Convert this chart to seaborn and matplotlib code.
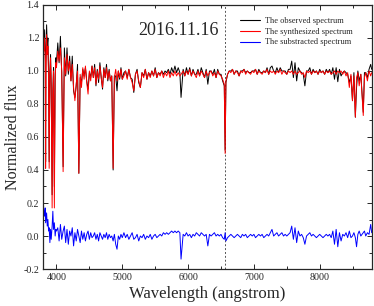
import numpy as np
import pandas as pd
import seaborn as sns
import matplotlib
matplotlib.use('Agg')
import matplotlib.pyplot as plt
from matplotlib.lines import Line2D
from matplotlib.ticker import MultipleLocator

# wavelength grid (angstrom)
wavelength = [
    3800, 3810, 3820, 3830, 3835, 3840, 3850, 3860, 3870, 3880, 3889, 3900, 3910, 3920, 3934, 3945, 3955, 3968, 3980, 3990, 4000,
    4020, 4040, 4060, 4080, 4101, 4120, 4140, 4160, 4180, 4200, 4220, 4240, 4260, 4280, 4300, 4320, 4340, 4360, 4380, 4400,
    4420, 4440, 4460, 4480, 4500, 4520, 4540, 4560, 4580, 4600, 4620, 4640, 4660, 4680, 4700, 4720, 4740, 4760, 4780, 4800,
    4820, 4840, 4861, 4880, 4900, 4920, 4940, 4960, 4980, 5000,
    5025, 5050, 5075, 5100, 5125, 5150, 5175, 5200, 5225, 5250, 5275, 5300, 5325, 5350, 5375, 5400, 5425, 5450, 5475, 5500,
    5525, 5550, 5575, 5600, 5625, 5650, 5675, 5700, 5725, 5750, 5775, 5800, 5825, 5850, 5875, 5893,
    5925, 5950, 5975, 6000, 6025, 6050, 6075, 6100, 6125, 6150, 6175, 6200, 6225, 6250, 6275, 6300, 6325, 6350, 6375, 6400,
    6425, 6450, 6475, 6500, 6525, 6550, 6563, 6575,
    6600, 6625, 6650, 6675, 6700, 6725, 6750, 6775, 6800, 6825, 6850, 6875, 6900, 6925, 6950, 6975, 7000, 7025, 7050, 7075,
    7100, 7125, 7150, 7175, 7200, 7225, 7250, 7275, 7300, 7325, 7350, 7375, 7400, 7425, 7450, 7475, 7500, 7525, 7550, 7575,
    7600, 7625, 7650, 7675, 7700, 7725, 7750, 7775, 7800, 7825, 7850, 7875, 7900, 7925, 7950, 7975, 8000, 8025, 8050, 8075,
    8100, 8125, 8150, 8175, 8200, 8225, 8250, 8275, 8300, 8325, 8350, 8375, 8400, 8425, 8450, 8475,
    8498, 8520, 8542, 8560, 8580, 8600, 8625, 8662, 8680, 8700, 8725, 8750, 8775, 8790,
]

observed = [
    1.20, 1.15, 1.25, 1.10, 0.45, 1.05, 1.28, 1.15, 1.20, 1.00, 0.45, 1.00, 1.10, 0.92, 0.25, 0.88, 1.02, 0.30, 0.98, 1.08, 1.05,
    1.17, 1.05, 1.21, 0.99, 0.42, 1.14, 0.97, 1.14, 0.98, 1.09, 0.94, 1.09, 0.88, 0.84, 0.91, 1.04, 0.38, 0.96, 0.93, 1.01,
    0.97, 1.02, 0.94, 0.89, 0.99, 0.96, 1.03, 0.96, 1.04, 0.91, 1.01, 0.93, 1.05, 0.96, 0.89, 1.02, 0.96, 1.04, 0.94, 1.01,
    0.94, 0.97, 0.40, 0.97, 0.97, 0.88, 1.00, 0.95, 1.02, 0.95,
    0.99, 1.00, 0.96, 1.01, 0.96, 0.95, 0.87, 0.98, 1.01, 0.93, 0.90, 0.99, 0.97, 1.01, 0.95, 0.99, 0.97, 1.00, 0.97, 1.02,
    0.96, 0.99, 0.98, 1.00, 0.98, 1.00, 0.99, 1.01, 0.98, 1.02, 0.99, 1.03, 0.99, 1.02, 0.99, 0.84,
    1.01, 0.97, 1.02, 0.98, 1.02, 0.97, 1.01, 0.98, 0.98, 1.01, 0.97, 1.02, 0.99, 0.96, 1.01, 0.92, 1.00, 1.00, 0.98, 1.01,
    0.96, 1.01, 0.98, 0.98, 0.94, 0.91, 0.52, 0.93,
    0.98, 1.00, 1.00, 1.01, 0.98, 1.00, 1.00, 0.97, 1.00, 1.00, 1.01, 0.99, 1.00, 0.99, 0.99, 1.00, 1.00, 1.01, 0.98, 1.01,
    0.99, 0.99, 1.00, 0.99, 1.02, 0.98, 1.02, 1.03, 1.00, 0.99, 1.02, 0.99, 1.02, 1.00, 1.00, 1.00, 0.98, 1.01, 1.01, 1.06,
    0.96, 1.05, 0.94, 1.02, 1.00, 0.99, 0.98, 0.91, 1.00, 1.00, 1.02, 0.98, 1.01, 0.99, 1.00, 0.98, 1.01, 0.99, 1.00, 0.98,
    1.01, 0.99, 1.01, 0.98, 1.02, 0.95, 1.02, 0.935, 1.01, 0.97, 0.99, 1.00, 0.99, 0.98, 0.93, 0.97,
    0.82, 0.99, 0.72, 0.90, 1.00, 0.94, 0.98, 0.75, 0.99, 0.99, 0.96, 1.01, 1.04, 1.01,
]

synthesized = [
    1.18, 1.12, 1.20, 1.05, 0.41, 1.00, 1.22, 1.10, 1.15, 0.95, 0.41, 0.98, 1.08, 0.90, 0.17, 0.85, 1.00, 0.17, 0.95, 1.05, 1.02,
    1.12, 1.06, 1.14, 1.00, 0.39, 1.08, 0.98, 1.10, 1.00, 1.06, 0.94, 1.04, 0.90, 0.82, 0.92, 1.00, 0.38, 0.98, 0.90, 1.02,
    0.95, 1.03, 0.93, 0.86, 1.00, 0.94, 1.03, 0.96, 1.02, 0.92, 1.00, 0.95, 1.03, 0.96, 0.90, 1.01, 0.96, 1.02, 0.95, 1.00,
    0.94, 0.97, 0.41, 0.96, 1.01, 0.94, 1.00, 0.96, 1.01, 0.95,
    0.97, 1.00, 0.95, 1.01, 0.96, 0.93, 0.88, 0.98, 1.00, 0.94, 0.90, 0.99, 0.96, 1.01, 0.95, 0.99, 0.96, 1.00, 0.97, 1.01,
    0.96, 0.99, 0.97, 1.00, 0.96, 0.99, 0.97, 1.00, 0.96, 0.99, 0.97, 1.00, 0.97, 0.99, 0.97, 0.98,
    1.00, 0.97, 1.00, 0.98, 1.01, 0.97, 1.00, 0.98, 0.96, 1.00, 0.97, 1.00, 0.98, 0.96, 1.00, 0.97, 0.99, 1.00, 0.97, 0.99,
    0.96, 1.00, 0.98, 0.97, 0.95, 0.92, 0.50, 0.94,
    0.98, 1.00, 0.99, 1.01, 0.98, 1.00, 0.99, 0.97, 1.00, 0.99, 1.01, 0.98, 1.00, 0.99, 0.98, 1.00, 0.99, 1.01, 0.98, 1.00,
    0.99, 0.98, 1.00, 0.99, 1.01, 0.98, 1.00, 0.99, 1.00, 0.98, 1.00, 0.99, 1.01, 0.98, 1.00, 0.99, 0.98, 1.00, 0.99, 1.00,
    0.98, 1.00, 0.98, 0.99, 1.00, 0.98, 0.99, 0.96, 1.00, 0.99, 1.00, 0.98, 1.00, 0.99, 1.00, 0.98, 1.00, 0.99, 1.00, 0.98,
    1.00, 0.99, 1.00, 0.98, 0.99, 1.00, 0.98, 1.00, 0.99, 1.00, 0.98, 1.00, 0.97, 0.99, 0.90, 0.98,
    0.82, 0.97, 0.72, 0.96, 0.99, 0.91, 0.98, 0.73, 0.96, 0.99, 0.94, 1.00, 0.97, 0.99,
]

subtracted = [
    0.20, 0.15, 0.12, 0.17, 0.08, 0.10, 0.14, 0.06, 0.10, 0.03, 0.05, -0.04, 0.04, -0.02, 0.06, 0.15, 0.04, 0.08, 0.00, 0.04, 0.03,
    0.05, -0.03, 0.07, -0.02, 0.03, 0.06, -0.04, 0.04, -0.05, 0.03, 0.00, 0.05, -0.06, 0.02, -0.03, 0.04, 0.00, -0.04, 0.03, -0.02,
    0.02, -0.03, 0.01, 0.03, -0.02, 0.02, -0.01, 0.00, 0.02, -0.02, 0.01, -0.03, 0.02, 0.00, -0.02, 0.01, -0.01, 0.02, -0.02, 0.01,
    -0.01, 0.00, -0.03, 0.01, -0.05, -0.08, 0.00, -0.02, 0.01, -0.01,
    0.02, -0.01, 0.01, -0.02, 0.00, 0.02, -0.02, -0.01, 0.01, -0.03, 0.00, -0.01, 0.01, -0.02, 0.00, -0.01, 0.01, -0.02, 0.00, 0.01,
    -0.01, 0.00, 0.01, 0.00, 0.02, 0.01, 0.02, 0.01, 0.02, 0.03, 0.02, 0.03, 0.02, 0.03, 0.02, -0.14,
    0.01, 0.00, 0.02, 0.00, 0.01, -0.01, 0.01, 0.00, 0.02, 0.01, 0.00, 0.02, 0.01, 0.00, 0.01, -0.06, 0.01, 0.00, 0.01, 0.02,
    0.00, 0.01, 0.00, 0.01, -0.01, -0.02, 0.02, -0.03,
    -0.01, 0.00, 0.01, 0.00, -0.01, 0.00, 0.01, 0.00, -0.01, 0.01, 0.00, 0.01, -0.01, 0.00, 0.01, 0.00, 0.01, -0.01, 0.00, 0.01,
    0.00, 0.01, -0.01, 0.00, 0.01, 0.00, 0.02, 0.04, 0.00, 0.01, 0.02, 0.00, 0.01, 0.02, 0.00, 0.01, 0.00, 0.01, 0.02, 0.06,
    -0.02, 0.05, -0.04, 0.03, 0.00, 0.01, -0.01, -0.05, 0.00, 0.01, 0.02, 0.00, 0.01, 0.00, -0.01, 0.00, 0.01, 0.00, -0.01, 0.00,
    0.01, 0.00, 0.01, -0.01, 0.03, -0.05, 0.04, -0.065, 0.02, -0.03, 0.01, 0.00, 0.02, -0.01, 0.03, -0.01,
    0.00, 0.02, -0.01, -0.065, 0.01, 0.03, 0.00, 0.02, 0.03, 0.00, 0.02, 0.01, 0.07, 0.02,
]

labels = ['The observed spectrum', 'The synthesized spectrum', 'The substracted spectrum']
colors = ['#000000', '#ff0000', '#0000ff']
h_alpha = 6563
date_text = '2016.11.16'

assert len(wavelength) == len(observed) == len(synthesized) == len(subtracted)

sns.set_theme(style='ticks')
plt.rcParams['font.family'] = ['Liberation Serif', 'DejaVu Serif']

fig = plt.figure(figsize=(3.74, 3.06), dpi=100)
ax = fig.add_axes([0.1158, 0.1209, 0.878, 0.8628])

# draw in order: observed, then synthesized on top, then residual
for flux, color in zip([observed, synthesized, subtracted], colors):
    sns.lineplot(x=wavelength, y=flux, color=color, estimator=None, sort=False,
                 linewidth=0.7, ax=ax)

ax.axvline(h_alpha, color='#555555', linestyle=(0, (2, 2)), linewidth=0.7, zorder=0)

ax.set_xlim(3800, 8790)
ax.set_ylim(-0.2, 1.4)
ax.xaxis.set_major_locator(MultipleLocator(1000))
ax.xaxis.set_minor_locator(MultipleLocator(500))
ax.yaxis.set_major_locator(MultipleLocator(0.2))
ax.yaxis.set_minor_locator(MultipleLocator(0.1))
ax.yaxis.set_major_formatter(plt.FuncFormatter(lambda v, p: f'{v:.1f}'))
ax.tick_params(which='both', direction='in', top=True, right=True, width=0.7, labelsize=7.2, pad=3)
ax.tick_params(which='major', length=3.5)
ax.tick_params(which='minor', length=2)
for s in ax.spines.values():
    s.set_linewidth(0.9)

ax.set_xlabel('Wavelength (angstrom)', fontsize=12, labelpad=3)
ax.set_ylabel('Normalized flux', fontsize=11.5, labelpad=2)

ax.text(0.413, 0.9015, date_text, transform=ax.transAxes, ha='center', va='center', fontsize=13)

handles = [Line2D([], [], color=c, linewidth=0.8) for c in colors]
ax.legend(handles, labels, loc='upper left', bbox_to_anchor=(0.585, 0.975), frameon=False,
          fontsize=6, handlelength=2.4, handletextpad=0.5, labelspacing=0.35, borderaxespad=0.2)

fig.savefig('out.png', dpi=100)
